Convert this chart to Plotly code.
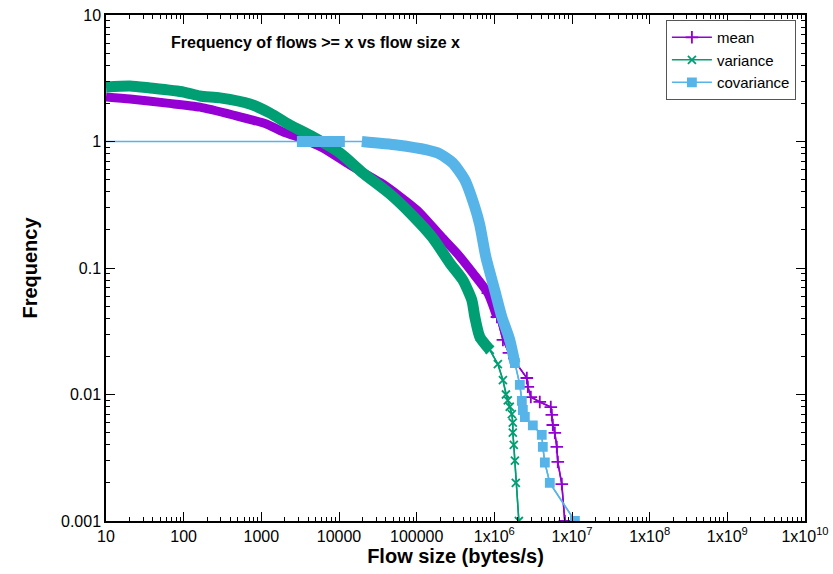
import plotly.graph_objects as go

# ---- data ----
mean_x = [10, 20.4, 61, 162, 431, 1180, 1900, 2870, 6210, 13800, 36700, 100700,
          199000, 329000, 529000, 825000, 1.08e6, 1.29e6, 1.54e6, 2.62e6, 2.70e6,
          2.95e6, 3.85e6, 5.33e6, 5.5e6, 5.66e6, 6.01e6, 6.37e6, 6.56e6, 7.39e6, 8.08e6]
mean_y = [2.25, 2.17, 2.01, 1.87, 1.62, 1.37, 1.19, 1.09, 0.889, 0.652, 0.461, 0.287,
          0.182, 0.131, 0.0912, 0.0634, 0.041, 0.027, 0.0213, 0.0135, 0.0115,
          0.00955, 0.00873, 0.00796, 0.00689, 0.00574, 0.00497, 0.00385, 0.00293, 0.00196, 0.001]

var_x = [10, 20.4, 36.8, 100, 162, 293, 713, 1290, 2330, 4610, 10300, 20300, 45200, 89300,
         161000, 267000, 393000, 513000, 561000, 650000, 875000, 1.11e6, 1.29e6,
         1.41e6, 1.49e6, 1.58e6, 1.68e6, 1.73e6, 1.73e6, 1.78e6, 1.84e6, 1.89e6, 2.07e6]
var_y = [2.70, 2.75, 2.65, 2.46, 2.29, 2.21, 1.98, 1.68, 1.35, 1.09, 0.811, 0.564, 0.385, 0.258,
         0.173, 0.1096, 0.0804, 0.0558, 0.041, 0.0285, 0.0225, 0.0174, 0.0130,
         0.010, 0.009, 0.008, 0.007, 0.006, 0.005, 0.004, 0.003, 0.002, 0.001]

cov_x = [10, 2870, 4220, 7640, 11900, 19700, 55600, 135000, 199000, 292000, 417000,
         561000, 650000, 778000, 1.01e6, 1.25e6, 1.58e6, 1.84e6, 2.13e6, 2.26e6, 2.33e6,
         2.47e6, 3.13e6, 4.08e6, 4.21e6, 4.47e6, 5.18e6, 1.09e7]
cov_y = [1, 1, 1, 1, 1, 1, 0.938, 0.857, 0.797, 0.676, 0.497, 0.303, 0.219, 0.122,
         0.067, 0.041, 0.027, 0.0177, 0.0119, 0.0089, 0.00754, 0.00664, 0.0057,
         0.0048, 0.00385, 0.0029, 0.002, 0.001]

x_tick_vals = [10, 100, 1000, 1e4, 1e5, 1e6, 1e7, 1e8, 1e9, 1e10]
x_tick_text = ["10", "100", "1000", "10000", "100000", "1x10<sup>6</sup>", "1x10<sup>7</sup>",
               "1x10<sup>8</sup>", "1x10<sup>9</sup>", "1x10<sup>10</sup>"]
y_tick_vals = [0.001, 0.01, 0.1, 1, 10]
y_tick_text = ["0.001", "0.01", "0.1", "1", "10"]

C_MEAN = "#9400D3"
C_VAR = "#009E73"
C_COV = "#56B4E9"
FONT = "Liberation Sans, Arial, sans-serif"

fig = go.Figure()

def add_series(name, xs, ys, color, symbol, msize, band_segments, tail_start, band_w):
    # thin connecting line through all points
    fig.add_trace(go.Scatter(x=xs, y=ys, mode="lines", line=dict(color=color, width=1.5),
                             showlegend=False, hoverinfo="skip"))
    # dense region drawn as a thick band (overlapping markers in the original)
    bx, by = [], []
    for a, b in band_segments:
        if bx:
            bx.append(None); by.append(None)
        bx += xs[a:b]; by += ys[a:b]
    fig.add_trace(go.Scatter(x=bx, y=by, mode="lines",
                             line=dict(color=color, width=band_w, shape="spline", smoothing=0.6),
                             showlegend=False, hoverinfo="skip"))
    # sparse tail with individual markers (legend entry)
    fig.add_trace(go.Scatter(x=xs[tail_start:], y=ys[tail_start:], mode="lines+markers", name=name,
                             line=dict(color=color, width=1.5),
                             marker=dict(symbol=symbol, size=msize, color=color,
                                         line=dict(color=color, width=1.8))))

add_series("mean", mean_x, mean_y, C_MEAN, "cross-thin-open", 9, [(0, 17)], 15, 9)
add_series("variance", var_x, var_y, C_VAR, "x-thin-open", 8, [(0, 21)], 19, 11)
add_series("covariance", cov_x, cov_y, C_COV, "square", 8, [(1, 5), (5, 18)], 17, 11)

fig.add_annotation(text="<b>Frequency of flows >= x vs flow size x</b>", xref="paper", yref="paper",
                   x=0.3, y=0.945, xanchor="center", yanchor="middle", showarrow=False,
                   font=dict(family=FONT, size=16, color="black"))

def minor_vals(lo, hi):
    return [m * 10.0 ** e for e in range(lo, hi) for m in range(2, 10)]

axis_common = dict(type="log", showline=True, linecolor="black", linewidth=1.5, mirror="allticks",
                   ticks="inside", ticklen=9, tickcolor="black", tickwidth=1,
                   showgrid=False, zeroline=False, automargin=False,
                   tickfont=dict(family=FONT, size=16, color="black"))

fig.update_xaxes(**axis_common, range=[1, 10], tickmode="array", tickvals=x_tick_vals,
                 ticktext=x_tick_text,
                 minor=dict(ticks="inside", ticklen=4, tickcolor="black", showgrid=False,
                            tickmode="array", tickvals=minor_vals(1, 10)),
                 title=dict(text="<b>Flow size (bytes/s)</b>", standoff=1,
                            font=dict(family=FONT, size=20, color="black")))
fig.update_yaxes(**axis_common, range=[-3, 1], tickmode="array", tickvals=y_tick_vals,
                 ticktext=y_tick_text,
                 minor=dict(ticks="inside", ticklen=4, tickcolor="black", showgrid=False,
                            tickmode="array", tickvals=minor_vals(-3, 1)),
                 title=dict(text="<b>Frequency</b>", standoff=18,
                            font=dict(family=FONT, size=20, color="black")))

fig.update_layout(
    width=833, height=574,
    margin=dict(l=106, r=28, t=15, b=53),
    plot_bgcolor="white", paper_bgcolor="white",
    legend=dict(x=0.987, y=0.99, xanchor="right", yanchor="top",
                bordercolor="#555555", borderwidth=1, bgcolor="white",
                font=dict(family=FONT, size=15, color="black"),
                tracegroupgap=0, itemwidth=40),
)

fig.write_html("out.html")
